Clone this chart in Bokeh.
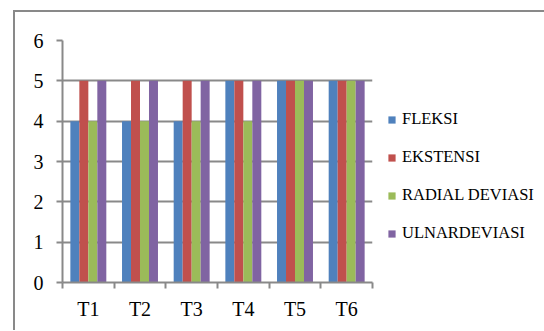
from bokeh.plotting import figure
from bokeh.models import ColumnDataSource, FixedTicker, Legend, LegendItem, Range1d
from bokeh.embed import file_html
from bokeh.resources import INLINE

categories = ["T1", "T2", "T3", "T4", "T5", "T6"]
series_names = ["FLEKSI", "EKSTENSI", "RADIAL DEVIASI", "ULNARDEVIASI"]
fleksi = [4, 4, 4, 5, 5, 5]
ekstensi = [5, 5, 5, 5, 5, 5]
radial = [4, 4, 4, 4, 5, 5]
ulnar = [5, 5, 5, 5, 5, 5]
y_ticks = [0, 1, 2, 3, 4, 5, 6]

series_values = [fleksi, ekstensi, radial, ulnar]
colors = ["#4F81BD", "#C0504D", "#9BBB59", "#8064A2"]
FONT = "Liberation Serif"
GRAY = "#898989"

p = figure(frame_width=310, frame_height=242, output_backend="svg", toolbar_location=None,
           x_range=Range1d(0, len(categories)), y_range=Range1d(0, 6),
           min_border_left=47, min_border_right=171, min_border_top=28, min_border_bottom=48,
           styles={"border-top": "2px solid #898989", "border-left": "2px solid #898989",
                   "margin-left": "13px", "margin-top": "10px"})
p.outline_line_color = None
p.background_fill_color = "white"
p.border_fill_color = "white"

bar_w = 0.174
offsets = [-1.5 * bar_w, -0.5 * bar_w, 0.5 * bar_w, 1.5 * bar_w]
centers = [i + 0.5 for i in range(len(categories))]
renderers = []
for name, vals, off, c in zip(series_names, series_values, offsets, colors):
    src = ColumnDataSource(dict(x=[ctr + off for ctr in centers], top=vals))
    r = p.vbar(x="x", top="top", width=bar_w, bottom=0, source=src,
               fill_color=c, line_color=None)
    renderers.append(r)

# x axis
p.xaxis.ticker = FixedTicker(ticks=centers, minor_ticks=list(range(len(categories) + 1)))
p.xaxis.major_label_overrides = {ctr: cat for ctr, cat in zip(centers, categories)}
p.xaxis.major_tick_line_color = None
p.xaxis.major_tick_out = 0
p.xaxis.major_tick_in = 0
p.xaxis.minor_tick_line_color = GRAY
p.xaxis.minor_tick_line_width = 2
p.xaxis.minor_tick_out = 6
p.xaxis.minor_tick_in = 0
p.xaxis.axis_line_color = GRAY
p.xaxis.axis_line_width = 2
p.xaxis.major_label_standoff = 9
p.xaxis.major_label_text_font = FONT
p.xaxis.major_label_text_font_size = "20px"
p.xaxis.major_label_text_color = "#000000"

# y axis
p.yaxis.ticker = FixedTicker(ticks=y_ticks, minor_ticks=[])
p.yaxis.axis_line_color = GRAY
p.yaxis.axis_line_width = 2
p.yaxis.major_tick_line_color = GRAY
p.yaxis.major_tick_line_width = 2
p.yaxis.major_tick_out = 6
p.yaxis.major_tick_in = 0
p.yaxis.minor_tick_line_color = None
p.yaxis.major_label_standoff = 13
p.yaxis.major_label_text_font = FONT
p.yaxis.major_label_text_font_size = "20px"
p.yaxis.major_label_text_color = "#000000"

p.xgrid.grid_line_color = None
p.ygrid.ticker = FixedTicker(ticks=y_ticks[1:])
p.ygrid.grid_line_color = GRAY
p.ygrid.grid_line_width = 2

legend = Legend(items=[LegendItem(label=n, renderers=[r]) for n, r in zip(series_names, renderers)],
                location=(15, 39), orientation="vertical")
legend.glyph_width = 9
legend.glyph_height = 9
legend.label_standoff = 6
legend.label_height = 20
legend.spacing = 18
legend.padding = 0
legend.margin = 0
legend.border_line_color = None
legend.background_fill_alpha = 0
legend.label_text_font = FONT
legend.label_text_font_size = "16.5px"
legend.label_text_color = "#000000"
p.add_layout(legend, "right")

open("out.html", "w").write(file_html(p, INLINE))
